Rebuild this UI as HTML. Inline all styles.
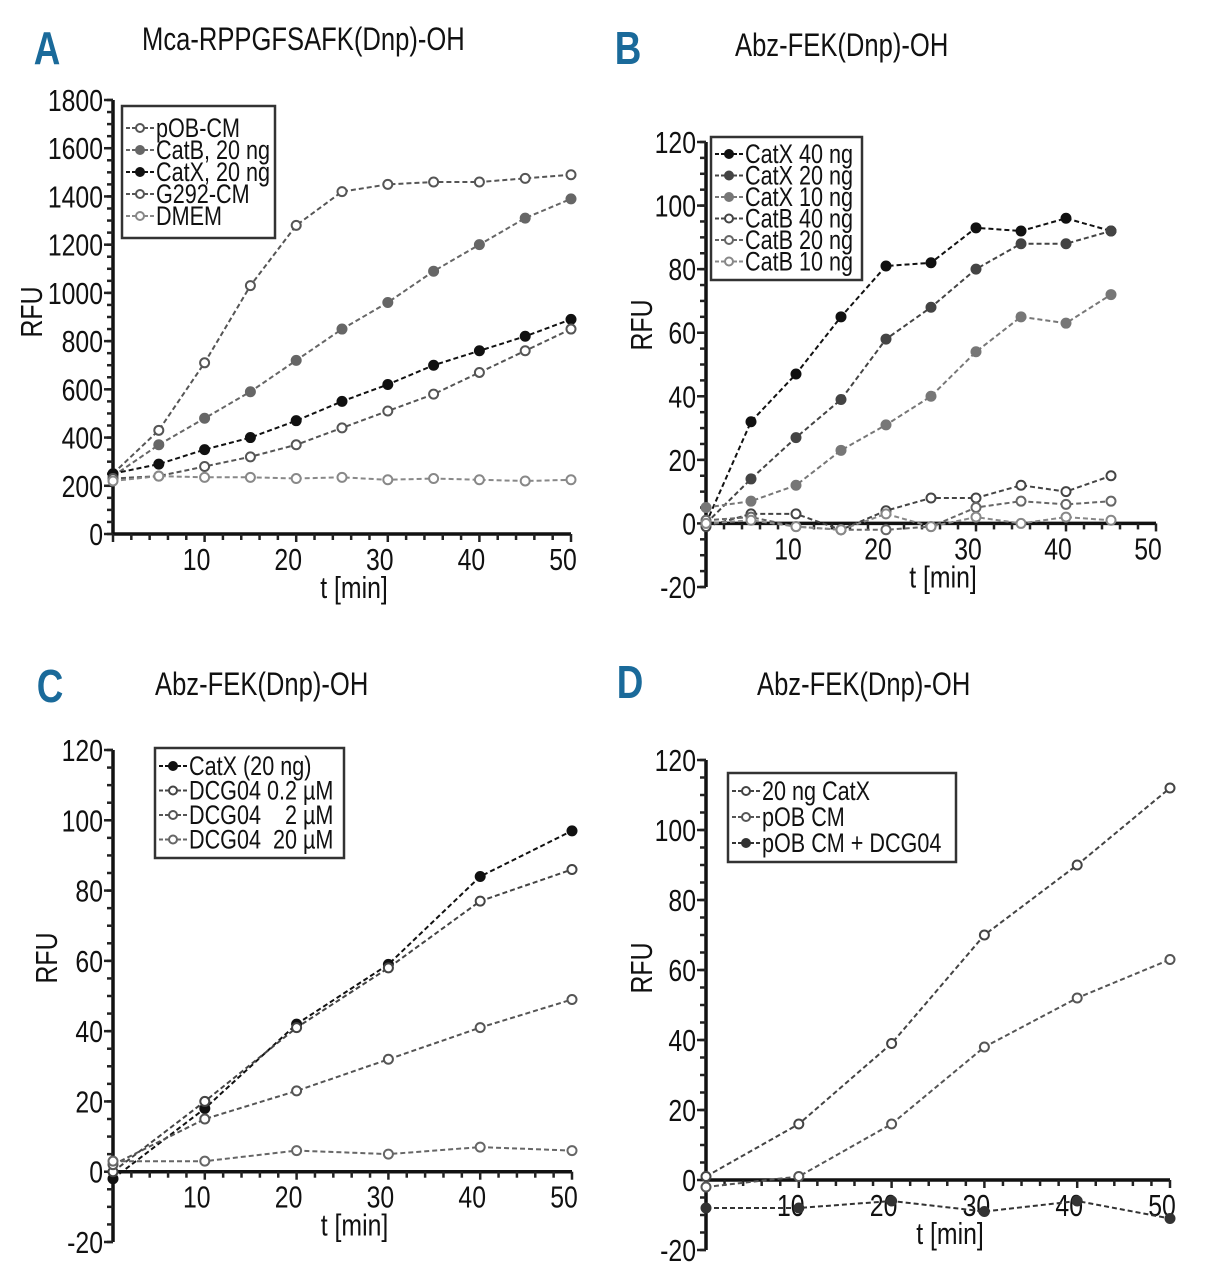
<!DOCTYPE html>
<html><head><meta charset="utf-8">
<style>
html,body{margin:0;padding:0;background:#fff;}
svg{display:block;font-family:"Liberation Sans",sans-serif;}
text{white-space:pre;}
</style></head>
<body>
<svg id="fig" width="1214" height="1280" viewBox="0 0 1214 1280" xmlns="http://www.w3.org/2000/svg"></svg>
<script>
// Panel A data
const aX = [0,5,10,15,20,25,30,35,40,45,50];
const aPOB = [250,430,710,1030,1280,1420,1450,1460,1460,1475,1490];
const aCatB = [240,370,480,590,720,850,960,1090,1200,1310,1390];
const aCatX = [250,290,350,400,470,550,620,700,760,820,890];
const aG292 = [230,240,280,320,370,440,510,580,670,760,850];
const aDMEM = [220,240,235,235,230,235,225,230,225,220,225];
const aYTicks = [0,200,400,600,800,1000,1200,1400,1600,1800];
const aXTicks = [10,20,30,40,50];
// Panel B data
const bX = [0,5,10,15,20,25,30,35,40,45];
const bCatX40 = [0,32,47,65,81,82,93,92,96,92];
const bCatX20 = [0,14,27,39,58,68,80,88,88,92];
const bCatX10 = [5,7,12,23,31,40,54,65,63,72];
const bCatB40 = [-1,3,3,-2,4,8,8,12,10,15];
const bCatB20 = [1,2,-1,-2,-2,-1,5,7,6,7];
const bCatB10 = [0,1,-1,-2,3,-1,2,0,2,1];
const bYTicks = [-20,0,20,40,60,80,100,120];
const bXTicks = [10,20,30,40,50];
// Panel C data
const cX = [0,10,20,30,40,50];
const cCatX = [-2,18,42,59,84,97];
const cD02 = [0,20,41,58,77,86];
const cD2 = [2,15,23,32,41,49];
const cD20 = [3,3,6,5,7,6];
const cYTicks = [-20,0,20,40,60,80,100,120];
const cXTicks = [10,20,30,40,50];
// Panel D data
const dX = [0,10,20,30,40,50];
const dCatX = [1,16,39,70,90,112];
const dPOB = [-2,1,16,38,52,63];
const dPOBD = [-8,-8,-6,-9,-6,-11];
const dYTicks = [-20,0,20,40,60,80,100,120];
const dXTicks = [10,20,30,40,50];

const NS = "http://www.w3.org/2000/svg";
const svg = document.getElementById('fig');
const SX = 0.8;
function mk(tag, attrs, parent){
  const e = document.createElementNS(NS, tag);
  for (const k in attrs) e.setAttribute(k, attrs[k]);
  (parent||svg).appendChild(e);
  return e;
}
function txt(str, x, y, size, anchor, parent, extra, rot){
  const tr = 'translate(' + x + ',' + y + ')' + (rot ? ' rotate(-90)' : '') + ' scale(' + SX + ',1)';
  const t = mk('text', Object.assign({x:0,y:0,transform:tr,'font-size':size,'text-anchor':anchor||'start',fill:'#111'}, extra||{}), parent);
  t.textContent = str;
  return t;
}

function panel(cfg){
  const g = mk('g', {});
  
  
  const sx = v => cfg.x0 + v * (cfg.x1 - cfg.x0) / cfg.xmax;
  const sy = v => cfg.yb + (v - cfg.ymin) * (cfg.yt - cfg.yb) / (cfg.ymax - cfg.ymin);
  const L = txt(cfg.letter, cfg.lx, cfg.ly, 46, 'middle', g, {'font-weight':'bold', fill:'#1a6a9a'});
  
  
  const T = txt(cfg.title, cfg.tx, cfg.ty, 32, 'start', g);
  
  
  const y0 = sy(0);
  const ax = mk('line', {x1:cfg.x0, y1:sy(cfg.ymax), x2:cfg.x0, y2:sy(cfg.ymin), stroke:'#111','stroke-width':3.5}, g);
  
  
  const xa = mk('line', {x1:cfg.x0, y1:y0, x2:cfg.x1, y2:y0, stroke:'#111','stroke-width':3.5}, g);
  
  
  for (let v = 0; v <= cfg.xmax + 0.01; v += 2) {
    mk('line', {x1:sx(v), y1:y0, x2:sx(v), y2:y0 + (v % 10 === 0 ? 8 : 6), stroke:'#222','stroke-width':2.5}, g);
  }
  const ystep = (cfg.yTicks[1] - cfg.yTicks[0]) / 4;
  for (let v = cfg.ymin; v <= cfg.ymax + 0.01; v += ystep) {
    mk('line', {x1:cfg.x0 - 6, y1:sy(v), x2:cfg.x0, y2:sy(v), stroke:'#222','stroke-width':2.5}, g);
  }
  cfg.yTicks.forEach(v => {
    mk('line', {x1:cfg.x0 - 9, y1:sy(v), x2:cfg.x0, y2:sy(v), stroke:'#222','stroke-width':2.5}, g);
    const t = txt(String(v), cfg.x0 - 10, sy(v) + 11, 31, 'end', g);
    
    
  });
  cfg.xTicks.forEach(v => {
    const t = txt(String(v), sx(v) - 8, y0 + 36, 31, 'middle', g);
    
    
  });
  const xt = txt('t [min]', (cfg.x0 + cfg.x1) / 2 + 12, y0 + 64, 31, 'middle', g);
  
  
  const yt = txt('RFU', cfg.ylabX, cfg.ylabY, 31, 'middle', g, {}, true);
  
  
  cfg.series.forEach(s => {
    const sg = mk('g', {}, g);
    
    
    const pts = s.y.map((v, i) => sx(s.x[i]).toFixed(1) + ',' + sy(v).toFixed(1)).join(' ');
    mk('polyline', {points:pts, fill:'none', stroke:s.c, 'stroke-width':2, 'stroke-dasharray':'5,3'}, sg);
    s.y.forEach((v, i) => {
      const c = mk('circle', {cx:sx(s.x[i]), cy:sy(v), r:4.5, fill:s.open ? '#fff' : s.c, stroke:s.c, 'stroke-width':2}, sg);
      
      
    });
  });
  const lg = mk('g', {}, g);
  
  
  const b = cfg.legend;
  mk('rect', {x:b.x, y:b.y, width:b.w, height:b.h, fill:'#fff', stroke:'#333', 'stroke-width':2.5}, lg);
  cfg.series.forEach((s, i) => {
    const yy = b.y + b.pad + i * b.dy;
    const e = mk('g', {}, lg);
    
    
    mk('line', {x1:b.x + 4, y1:yy, x2:b.x + 32, y2:yy, stroke:s.c, 'stroke-width':2, 'stroke-dasharray':'4,2'}, e);
    mk('circle', {cx:b.x + 18, cy:yy, r:4, fill:s.open ? '#fff' : s.c, stroke:s.c, 'stroke-width':2}, e);
    txt(s.label, b.x + 34, yy + 9, b.fs, 'start', e);
  });
}

panel({name:'panel-a', letter:'A', lx:47, ly:64, title:'Mca-RPPGFSAFK(Dnp)-OH', tx:142, ty:50,
  x0:113, x1:571, xmax:50, yb:534, yt:100, ymin:0, ymax:1800, yTicks:aYTicks, xTicks:aXTicks, ylabX:42, ylabY:312,
  legend:{x:122, y:106, w:153, h:132, pad:22, dy:22, fs:27},
  series:[
    {id:'pob-cm', label:'pOB-CM', x:aX, y:aPOB, c:'#555', open:true},
    {id:'catb-20ng', label:'CatB, 20 ng', x:aX, y:aCatB, c:'#666', open:false},
    {id:'catx-20ng', label:'CatX, 20 ng', x:aX, y:aCatX, c:'#111', open:false},
    {id:'g292-cm', label:'G292-CM', x:aX, y:aG292, c:'#555', open:true},
    {id:'dmem', label:'DMEM', x:aX, y:aDMEM, c:'#888', open:true}
  ]});

panel({name:'panel-b', letter:'B', lx:628, ly:64, title:'Abz-FEK(Dnp)-OH', tx:735, ty:56,
  x0:706, x1:1156, xmax:50, yb:587, yt:142, ymin:-20, ymax:120, yTicks:bYTicks, xTicks:bXTicks, ylabX:652, ylabY:325,
  legend:{x:711, y:137, w:151, h:143, pad:17, dy:21.5, fs:27},
  series:[
    {id:'catx-40ng', label:'CatX 40 ng', x:bX, y:bCatX40, c:'#111', open:false},
    {id:'catx-20ng', label:'CatX 20 ng', x:bX, y:bCatX20, c:'#444', open:false},
    {id:'catx-10ng', label:'CatX 10 ng', x:bX, y:bCatX10, c:'#777', open:false},
    {id:'catb-40ng', label:'CatB 40 ng', x:bX, y:bCatB40, c:'#444', open:true},
    {id:'catb-20ng', label:'CatB 20 ng', x:bX, y:bCatB20, c:'#666', open:true},
    {id:'catb-10ng', label:'CatB 10 ng', x:bX, y:bCatB10, c:'#888', open:true}
  ]});

panel({name:'panel-c', letter:'C', lx:50, ly:702, title:'Abz-FEK(Dnp)-OH', tx:155, ty:695,
  x0:113, x1:572, xmax:50, yb:1242, yt:750, ymin:-20, ymax:120, yTicks:cYTicks, xTicks:cXTicks, ylabX:57, ylabY:958,
  legend:{x:155, y:748, w:189, h:110, pad:18, dy:24.5, fs:27},
  series:[
    {id:'catx-20ng', label:'CatX (20 ng)', x:cX, y:cCatX, c:'#111', open:false},
    {id:'dcg04-0.2um', label:'DCG04 0.2 \u00b5M', x:cX, y:cD02, c:'#444', open:true},
    {id:'dcg04-2um', label:'DCG04    2 \u00b5M', x:cX, y:cD2, c:'#555', open:true},
    {id:'dcg04-20um', label:'DCG04  20 \u00b5M', x:cX, y:cD20, c:'#666', open:true}
  ]});

panel({name:'panel-d', letter:'D', lx:630, ly:698, title:'Abz-FEK(Dnp)-OH', tx:757, ty:695,
  x0:706, x1:1170, xmax:50, yb:1250, yt:760, ymin:-20, ymax:120, yTicks:dYTicks, xTicks:dXTicks, ylabX:652, ylabY:968,
  legend:{x:728, y:773, w:228, h:89, pad:18, dy:26, fs:27},
  series:[
    {id:'20ng-catx', label:'20 ng CatX', x:dX, y:dCatX, c:'#444', open:true},
    {id:'pob-cm', label:'pOB CM', x:dX, y:dPOB, c:'#555', open:true},
    {id:'pob-cm-dcg04', label:'pOB CM + DCG04', x:dX, y:dPOBD, c:'#333', open:false}
  ]});
</script>
</body></html>
